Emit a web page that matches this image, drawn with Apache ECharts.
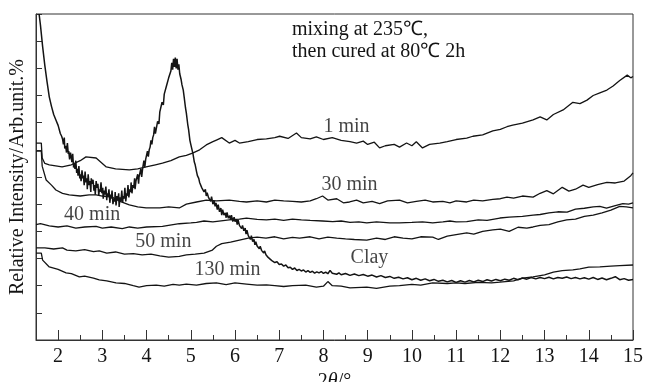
<!DOCTYPE html>
<html>
<head>
<meta charset="utf-8">
<script src="https://cdn.jsdelivr.net/npm/echarts@6/dist/echarts.min.js"></script>
<style>
  html, body { margin: 0; padding: 0; background: #fff; }
  #chart { width: 645px; height: 382px; }
</style>
</head>
<body>
<div id="chart"></div>
<script>
// XRD patterns, 2θ (°) vs relative intensity (arb. units, offset)
const xMajorTicks = [2, 3, 4, 5, 6, 7, 8, 9, 10, 11, 12, 13, 14, 15];
const xMinorTicks = [2.5, 3.5, 4.5, 5.5, 6.5, 7.5, 8.5, 9.5, 10.5, 11.5, 12.5, 13.5, 14.5];
const yTicks = [0, 1, 2, 3, 4, 5, 6, 7, 8, 9, 10, 11, 12];

const min1 = [[1.5,7.25],[1.62,7.25],[1.64,6.7],[1.7,6.5],[1.8,6.45],[2.09,6.37],[2.3,6.45],[2.5,6.6],[2.63,6.74],[2.86,6.7],[3.0,6.5],[3.09,6.37],[3.3,6.3],[3.61,6.26],[3.8,6.3],[3.99,6.37],[4.2,6.45],[4.36,6.51],[4.55,6.6],[4.74,6.74],[4.9,6.8],[5.04,6.88],[5.2,7.0],[5.35,7.18],[5.5,7.3],[5.58,7.36],[5.7,7.45],[5.87,7.25],[6.0,7.35],[6.1,7.25],[6.3,7.3],[6.5,7.38],[6.71,7.4],[6.9,7.45],[7.01,7.5],[7.2,7.42],[7.39,7.62],[7.5,7.45],[7.7,7.4],[7.84,7.48],[8.0,7.38],[8.2,7.45],[8.4,7.35],[8.6,7.3],[8.75,7.25],[8.9,7.32],[9.0,7.2],[9.15,7.28],[9.27,7.07],[9.4,7.15],[9.6,7.2],[9.72,7.1],[9.88,7.25],[10.0,7.15],[10.1,7.3],[10.24,7.07],[10.4,7.2],[10.63,7.25],[10.8,7.3],[11.0,7.38],[11.24,7.43],[11.38,7.5],[11.6,7.55],[11.83,7.7],[12.0,7.75],[12.15,7.85],[12.28,7.91],[12.5,7.98],[12.74,8.1],[12.9,8.21],[13.05,8.1],[13.2,8.3],[13.42,8.47],[13.64,8.75],[13.8,8.7],[13.96,8.83],[14.1,9.0],[14.25,9.1],[14.41,9.2],[14.55,9.35],[14.7,9.55],[14.87,9.75],[14.95,9.65],[15.0,9.7]];

const min30 = [[1.5,6.95],[1.62,6.95],[1.64,6.4],[1.73,5.89],[1.85,5.7],[1.95,5.52],[2.1,5.4],[2.25,5.34],[2.5,5.3],[2.7,5.34],[2.86,5.34],[3.0,5.3],[3.22,5.26],[3.4,5.1],[3.61,4.97],[3.8,4.9],[3.99,4.86],[4.3,4.86],[4.5,4.9],[4.74,4.86],[4.9,5.0],[5.13,5.08],[5.35,5.15],[5.58,5.12],[5.87,5.15],[6.1,5.1],[6.26,5.08],[6.5,5.12],[6.71,5.08],[6.9,5.15],[7.1,5.12],[7.3,5.1],[7.5,5.08],[7.7,5.12],[7.84,5.2],[7.98,5.3],[8.1,5.15],[8.3,5.2],[8.45,5.05],[8.59,5.08],[8.75,5.15],[8.9,5.05],[9.1,5.1],[9.27,5.02],[9.45,5.12],[9.72,5.15],[9.9,5.05],[10.1,5.1],[10.3,5.15],[10.47,5.08],[10.7,5.1],[10.86,5.05],[11.0,5.12],[11.24,5.08],[11.4,5.15],[11.6,5.12],[11.83,5.18],[12.0,5.2],[12.15,5.26],[12.3,5.22],[12.5,5.3],[12.74,5.26],[12.9,5.4],[13.05,5.5],[13.2,5.38],[13.4,5.62],[13.55,5.48],[13.7,5.55],[13.87,5.7],[14.0,5.62],[14.2,5.72],[14.41,5.8],[14.6,5.78],[14.8,5.85],[14.95,6.05],[15.0,6.15]];

const min40 = [[1.5,4.25],[1.6,4.28],[1.8,4.2],[2.0,4.16],[2.2,4.2],[2.4,4.12],[2.6,4.16],[2.86,4.18],[3.0,4.12],[3.2,4.16],[3.45,4.1],[3.61,4.16],[3.8,4.12],[4.0,4.16],[4.36,4.18],[4.6,4.25],[4.74,4.28],[5.0,4.31],[5.13,4.33],[5.3,4.38],[5.5,4.35],[5.87,4.42],[6.1,4.45],[6.26,4.49],[6.5,4.44],[6.71,4.42],[6.9,4.45],[7.1,4.4],[7.3,4.45],[7.5,4.42],[7.7,4.4],[7.98,4.38],[8.21,4.36],[8.4,4.38],[8.6,4.33],[8.8,4.35],[8.98,4.31],[9.2,4.35],[9.5,4.31],[9.72,4.31],[10.0,4.33],[10.24,4.35],[10.47,4.31],[10.7,4.35],[10.86,4.38],[11.0,4.35],[11.24,4.36],[11.5,4.42],[11.7,4.4],[11.99,4.49],[12.2,4.52],[12.5,4.55],[12.74,4.6],[12.9,4.62],[13.1,4.68],[13.3,4.72],[13.51,4.71],[13.7,4.82],[13.9,4.85],[14.1,4.9],[14.25,4.92],[14.4,4.85],[14.6,4.95],[14.77,5.02],[14.9,5.0],[15.0,5.05]];

const min50 = [[1.5,3.39],[1.7,3.39],[1.9,3.35],[2.1,3.39],[2.2,3.31],[2.4,3.28],[2.6,3.33],[2.8,3.25],[2.93,3.28],[3.1,3.2],[3.3,3.24],[3.5,3.16],[3.7,3.18],[3.9,3.13],[4.1,3.16],[4.3,3.1],[4.5,3.05],[4.74,3.08],[4.9,3.13],[5.1,3.16],[5.3,3.2],[5.49,3.31],[5.58,3.45],[5.7,3.55],[5.9,3.6],[6.1,3.68],[6.3,3.75],[6.5,3.79],[6.7,3.75],[6.9,3.8],[7.1,3.72],[7.3,3.78],[7.46,3.75],[7.7,3.8],[7.9,3.72],[8.1,3.79],[8.3,3.75],[8.5,3.72],[8.7,3.7],[8.98,3.68],[9.2,3.75],[9.4,3.7],[9.6,3.8],[9.8,3.75],[10.0,3.72],[10.2,3.8],[10.47,3.79],[10.6,3.7],[10.8,3.82],[11.0,3.88],[11.24,3.94],[11.4,3.9],[11.6,4.0],[11.83,4.05],[12.0,4.08],[12.2,4.0],[12.4,4.15],[12.6,4.12],[12.74,4.16],[12.9,4.22],[13.1,4.25],[13.3,4.35],[13.5,4.42],[13.7,4.45],[13.9,4.55],[14.1,4.6],[14.3,4.68],[14.5,4.78],[14.7,4.92],[14.85,4.9],[15.0,4.86]];

const min130 = [[1.5,3.2],[1.62,3.2],[1.65,2.94],[1.8,2.69],[2.0,2.6],[2.18,2.47],[2.3,2.44],[2.48,2.32],[2.6,2.35],[2.8,2.28],[2.93,2.21],[3.1,2.18],[3.31,2.1],[3.5,2.08],[3.7,2.0],[3.83,1.95],[4.0,2.0],[4.22,2.02],[4.4,1.98],[4.6,2.05],[4.74,2.02],[4.9,2.06],[5.13,2.02],[5.35,2.08],[5.58,2.1],[5.8,2.04],[6.0,2.1],[6.26,2.06],[6.5,2.02],[6.71,2.03],[6.9,2.0],[7.1,1.97],[7.3,2.0],[7.6,2.02],[7.84,1.95],[8.0,1.98],[8.1,2.15],[8.2,2.0],[8.4,1.98],[8.6,1.92],[8.98,1.95],[9.2,1.9],[9.5,1.98],[9.72,2.0],[10.0,2.05],[10.2,2.02],[10.47,2.1],[10.8,2.08],[11.0,2.1],[11.2,2.08],[11.5,2.12],[11.8,2.1],[11.99,2.13],[12.3,2.18],[12.5,2.28],[12.74,2.32],[13.0,2.4],[13.2,2.5],[13.4,2.55],[13.64,2.58],[13.8,2.62],[14.0,2.68],[14.25,2.69],[14.5,2.72],[14.7,2.74],[15.0,2.76]];

const clay = [[1.57,12.0],[1.6,11.6],[1.65,10.8],[1.7,10.1],[1.75,9.5],[1.8,8.95],[1.85,8.6],[1.9,8.3],[1.95,8.1],[2.0,7.9],[2.05,7.6],[2.08,7.5],
[2.10,7.40],[2.12,7.20],[2.14,7.45],[2.15,7.05],[2.17,7.15],[2.19,6.90],[2.21,7.25],[2.23,6.85],[2.24,6.95],[2.26,6.65],[2.28,6.9],[2.30,6.7],[2.31,6.55],[2.33,6.85],[2.35,6.35],[2.37,6.5],[2.38,6.3],[2.40,6.6],[2.42,6.15],[2.44,6.3],[2.45,6.05],[2.47,6.4],[2.49,5.95],[2.50,6.1],[2.52,5.85],[2.54,6.25],[2.56,5.95],[2.57,6.05],[2.59,5.7],[2.61,6.2],[2.63,5.8],[2.65,5.95],[2.66,5.55],[2.68,6.1],[2.70,5.7],[2.72,5.85],[2.74,5.45],[2.75,5.95],[2.77,5.75],[2.79,5.9],[2.81,5.5],[2.83,5.7],[2.84,5.35],[2.86,5.85],[2.88,5.6],[2.90,5.75],[2.92,5.3],[2.93,5.55],[2.95,5.45],[2.97,5.8],[2.99,5.4],[3.01,5.6],[3.02,5.2],[3.04,5.5],[3.06,5.35],[3.08,5.65],[3.10,5.15],[3.11,5.4],[3.13,5.3],[3.15,5.55],[3.17,5.05],[3.19,5.35],[3.20,5.2],[3.22,5.5],[3.24,5.0],[3.26,5.2],[3.28,5.1],[3.29,5.45],[3.31,4.95],[3.33,5.3],[3.35,5.15],[3.37,5.4],[3.38,4.9],[3.40,5.25],[3.42,5.1],[3.44,5.5],[3.46,5.05],[3.47,5.3],[3.49,5.2],[3.51,5.6],[3.53,5.1],[3.55,5.4],[3.56,5.3],[3.58,5.7],[3.60,5.25],[3.62,5.55],[3.64,5.45],[3.65,5.8],[3.67,5.4],[3.69,5.7],[3.71,5.6],[3.73,5.95],[3.74,5.55],[3.76,5.85],[3.78,5.8],[3.80,6.1],[3.82,5.75],[3.83,6.0],[3.85,6.05],[3.87,6.3],[3.89,6.0],[3.91,6.3],[3.92,6.35],[3.94,6.6],[3.96,6.35],[3.98,6.65],[4.00,6.7],[4.02,6.95],[4.04,6.75],[4.06,7.0],[4.08,7.1],[4.10,7.35],[4.12,7.2],[4.14,7.45],[4.16,7.55],[4.18,7.85],[4.20,7.6],
[4.25,8.05],[4.28,7.95],[4.3,8.4],[4.35,8.75],[4.38,8.65],[4.4,9.05],[4.45,9.35],[4.48,9.3],[4.5,9.65],[4.55,9.9],[4.57,10.2],[4.59,9.95],[4.61,10.35],[4.63,10.05],[4.65,10.4],[4.67,10.0],[4.69,10.35],[4.71,9.95],[4.73,10.15],[4.75,9.8],[4.78,9.6],[4.8,9.4],[4.83,9.2],[4.85,8.95],[4.88,8.55],[4.9,8.35],[4.93,7.95],[4.95,7.75],[4.98,7.35],[5.0,7.2],[5.05,6.85],[5.08,6.55],[5.1,6.45],[5.13,6.2],[5.15,6.05],[5.18,5.95],[5.2,5.8],[5.23,5.78],[5.25,5.6],[5.28,5.62],[5.3,5.45],[5.33,5.55],[5.35,5.3],[5.37,5.42],[5.4,5.25],[5.43,5.32],[5.45,5.1],[5.47,5.28],[5.5,5.0],[5.53,5.12],[5.55,4.92],[5.57,5.05],[5.6,4.8],[5.62,4.98],[5.65,4.72],[5.68,4.86],[5.7,4.6],[5.72,4.8],[5.75,4.6],[5.78,4.68],[5.8,4.5],[5.82,4.7],[5.85,4.48],[5.88,4.58],[5.9,4.42],[5.92,4.6],[5.95,4.36],[5.98,4.52],[6.0,4.36],[6.03,4.44],[6.05,4.25],[6.07,4.42],[6.1,4.22],[6.13,4.28],[6.15,4.1],[6.17,4.22],[6.2,4.02],[6.23,4.12],[6.25,3.9],[6.27,4.04],[6.3,3.84],[6.33,3.88],[6.35,3.7],[6.37,3.84],[6.4,3.62],[6.43,3.7],[6.45,3.5],[6.47,3.62],[6.5,3.46],[6.53,3.52],[6.55,3.36],[6.57,3.45],[6.6,3.3],[6.63,3.36],[6.65,3.2],[6.67,3.28],[6.7,3.14],[6.73,3.16],[6.75,3.04],[6.77,3.1],[6.8,2.97],[6.83,3.02],[6.85,2.9],[6.88,2.95],[6.9,2.85],[6.95,2.88],[7.0,2.78],[7.05,2.8],[7.1,2.72],[7.15,2.76],[7.2,2.66],[7.25,2.68],[7.3,2.6],[7.35,2.65],[7.4,2.56],[7.45,2.6],[7.5,2.54],[7.55,2.58],[7.6,2.5],[7.65,2.55],[7.7,2.49],[7.75,2.53],[7.8,2.46],[7.85,2.51],[7.9,2.47],[7.95,2.52],[8.0,2.45],[8.05,2.5],[8.1,2.44],[8.15,2.56],[8.2,2.46],[8.3,2.42],[8.35,2.47],[8.4,2.4],[8.5,2.45],[8.6,2.38],[8.7,2.43],[8.8,2.37],[8.9,2.41],[9.0,2.35],[9.1,2.39],[9.2,2.32],[9.3,2.37],[9.4,2.3],[9.5,2.34],[9.6,2.27],[9.7,2.31],[9.8,2.25],[9.9,2.29],[10.0,2.22],[10.1,2.27],[10.2,2.2],[10.3,2.25],[10.4,2.18],[10.5,2.23],[10.6,2.16],[10.7,2.2],[10.8,2.14],[10.9,2.19],[11.0,2.12],[11.1,2.18],[11.2,2.13],[11.3,2.19],[11.4,2.14],[11.5,2.2],[11.6,2.15],[11.7,2.22],[11.8,2.17],[11.9,2.23],[12.0,2.18],[12.1,2.24],[12.2,2.2],[12.3,2.27],[12.4,2.22],[12.5,2.28],[12.6,2.24],[12.7,2.3],[12.8,2.25],[12.9,2.3],[13.0,2.26],[13.1,2.31],[13.2,2.25],[13.3,2.3],[13.4,2.27],[13.5,2.32],[13.6,2.26],[13.7,2.3],[13.8,2.25],[13.9,2.29],[14.0,2.24],[14.1,2.3],[14.2,2.23],[14.3,2.28],[14.4,2.22],[14.5,2.27],[14.6,2.33],[14.7,2.22],[14.8,2.26],[14.9,2.2],[15.0,2.23]];

// curve tags: [text, 2θ, intensity]
const curveLabels = [
  ['1 min', 8.52, 7.84],
  ['30 min', 8.59, 5.70],
  ['40 min', 2.77, 4.60],
  ['50 min', 4.38, 3.61],
  ['130 min', 5.83, 2.58],
  ['Clay', 9.04, 3.02]
];

const noteLines = ['mixing at 235℃,', 'then cured at 80℃ 2h'];

const FONT = '"Liberation Serif", "Times New Roman", serif';
const INK = '#141414';
const FS = 20;

const chart = echarts.init(document.getElementById('chart'), null, { renderer: 'canvas' });

function curve(name, data, width) {
  return {
    name, type: 'line', data, symbol: 'none', clip: true,
    lineStyle: { color: INK, width: width },
    z: 3, silent: true
  };
}

const xBase = {
  type: 'value', min: 1.5, max: 15,
  splitLine: { show: false }
};

chart.setOption({
  animation: false,
  backgroundColor: '#fff',
  grid: {
    left: 36, right: 12, top: 14, bottom: 42,
    outerBoundsMode: 'none', containLabel: false,
    show: true, borderColor: '#333', borderWidth: 1
  },
  xAxis: [
    Object.assign({}, xBase, {
      name: '2{i|θ}/°',
      nameLocation: 'middle',
      nameGap: 27,
      nameTextStyle: { fontFamily: FONT, fontSize: FS, color: INK, rich: { i: { fontFamily: FONT, fontSize: FS, fontStyle: 'italic', color: INK } } },
      axisLine: { lineStyle: { color: '#333', width: 1 } },
      axisTick: { inside: true, length: 10, customValues: xMajorTicks, lineStyle: { color: '#333', width: 1 } },
      axisLabel: { customValues: xMajorTicks, margin: 7, fontFamily: FONT, fontSize: FS, color: INK }
    }),
    Object.assign({}, xBase, {
      position: 'bottom',
      axisLine: { show: false },
      axisTick: { inside: true, length: 5, customValues: xMinorTicks, lineStyle: { color: '#333', width: 1 } },
      axisLabel: { show: false }
    })
  ],
  yAxis: {
    type: 'value', min: 0, max: 12,
    name: 'Relative Intensity/Arb.unit.%',
    nameLocation: 'middle',
    nameGap: 8,
    nameTextStyle: { fontFamily: FONT, fontSize: FS, color: INK },
    axisLine: { show: true, lineStyle: { color: '#333', width: 1 } },
    axisTick: { show: true, inside: true, length: 6, customValues: yTicks, lineStyle: { color: '#333', width: 1 } },
    axisLabel: { show: false },
    splitLine: { show: false }
  },
  graphic: noteLines.map((t, i) => ({
    type: 'text', left: 292, top: 20 + i * 22,
    style: { text: t, fontFamily: FONT, fontSize: FS, fill: INK }
  })),
  series: [
    curve('1 min', min1, 1.3),
    curve('30 min', min30, 1.3),
    curve('40 min', min40, 1.3),
    curve('50 min', min50, 1.3),
    curve('130 min', min130, 1.3),
    curve('Clay', clay, 1.5),
    {
      name: 'tags', type: 'scatter', symbolSize: 0, silent: true, z: 5,
      data: curveLabels.map(d => ({ value: [d[1], d[2]], label: { formatter: d[0] } })),
      label: { show: true, position: 'inside', fontFamily: FONT, fontSize: FS, color: INK }
    }
  ]
});
</script>
</body>
</html>
